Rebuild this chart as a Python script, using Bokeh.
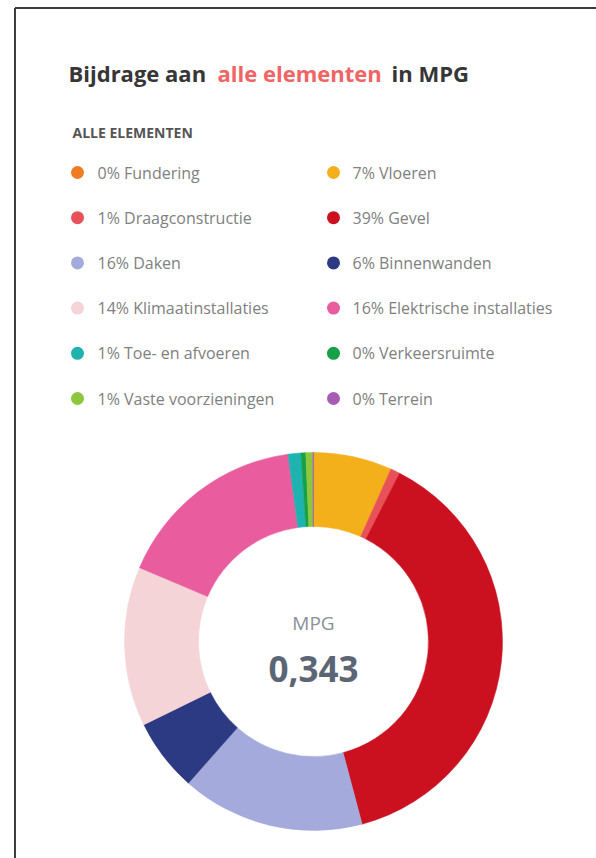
import numpy as np
from bokeh.plotting import figure
from bokeh.models import Range1d, ColumnDataSource
from bokeh.core.properties import value
from bokeh.embed import file_html
from bokeh.resources import INLINE

# ---- data ----
names = ["Fundering", "Vloeren", "Draagconstructie", "Gevel", "Daken", "Binnenwanden",
         "Klimaatinstallaties", "Elektrische installaties", "Toe- en afvoeren",
         "Verkeersruimte", "Vaste voorzieningen", "Terrein"]
label_pct = [0, 7, 1, 39, 16, 6, 14, 16, 1, 0, 1, 0]
shares = [0.1, 6.6, 0.8, 38.2, 15.6, 6.2, 13.6, 16.4, 1.1, 0.4, 0.6, 0.05]
colors = ["#EF7B22", "#F3B01B", "#E9515A", "#CB1020", "#A4AADB", "#2B3A83",
          "#F5D4D7", "#E95D9E", "#1FB3B0", "#16A047", "#8DC63F", "#A75CB4"]
mpg_label = "MPG"
mpg_value = "0,343"

W, H = 596, 858
FONT = "Open Sans"


def X(sx):
    return sx


def Y(sy):
    return H - sy


p = figure(width=W, height=H, x_range=Range1d(0, W), y_range=Range1d(0, H),
           output_backend="svg", toolbar_location=None,
           x_axis_location=None, y_axis_location=None, min_border=0)
p.grid.visible = False
p.outline_line_color = None
p.background_fill_color = "white"
p.border_fill_color = "white"

# card border (top and left)
p.segment(x0=[X(14.5), X(14.5)], y0=[Y(7.5), Y(7.5)], x1=[X(14.5), W], y1=[0, Y(7.5)],
          line_color="#3e3e3e", line_width=2)

# title
p.text(x=[X(68)], y=[Y(72)], text=["Bijdrage aan"], text_font=value(FONT),
       text_font_style="bold", text_font_size="22px", text_color="#363636",
       text_baseline="alphabetic")
p.text(x=[X(217)], y=[Y(72)], text=["alle elementen"], text_font=value(FONT),
       text_font_style="bold", text_font_size="22px", text_color="#F06464",
       text_baseline="alphabetic")
p.text(x=[X(391)], y=[Y(72)], text=["in MPG"], text_font=value(FONT),
       text_font_style="bold", text_font_size="22px", text_color="#363636",
       text_baseline="alphabetic")

# legend heading
p.text(x=[X(72)], y=[Y(132)], text=["ALLE ELEMENTEN"], text_font=value(FONT),
       text_font_style="bold", text_font_size="14px", text_color="#555555",
       text_baseline="alphabetic")

# legend entries
rows = [i // 2 for i in range(len(names))]
cols = [i % 2 for i in range(len(names))]
dot_x = [X(77) if c == 0 else X(333) for c in cols]
txt_x = [X(97) if c == 0 else X(352) for c in cols]
row_y = [Y(172 + 45.2 * r) for r in rows]
labels = [f"{pc}% {n}" for pc, n in zip(label_pct, names)]
leg = ColumnDataSource(dict(dx=dot_x, tx=txt_x, y=row_y, color=colors, label=labels))
p.scatter(x="dx", y="y", size=13, fill_color="color", line_color=None, source=leg)
p.text(x="tx", y="y", text="label", source=leg, text_font=value(FONT),
       text_font_size="16px", text_color="#808080", text_baseline="middle")

# donut
tot = float(np.sum(shares))
frac = np.array(shares) / tot
cum_end = np.cumsum(frac)
cum_start = cum_end - frac
start_ang = np.pi / 2 - 2 * np.pi * cum_start
end_ang = np.pi / 2 - 2 * np.pi * cum_end
donut = ColumnDataSource(dict(start=start_ang, end=end_ang, color=colors, name=names))
cx, cy = X(313), Y(641)
p.annular_wedge(x=cx, y=cy, inner_radius=115, outer_radius=189,
                start_angle="start", end_angle="end", direction="clock",
                fill_color="color", line_color="color", line_width=0.5, source=donut)

# center text
p.text(x=[cx], y=[Y(622)], text=[mpg_label], text_font=value(FONT),
       text_font_size="19px", text_color="#8b9099", text_align="center",
       text_baseline="alphabetic")
p.text(x=[cx], y=[Y(668)], text=[mpg_value], text_font=value(FONT),
       text_font_style="bold", text_font_size="35px", text_color="#5c6573",
       text_align="center", text_baseline="alphabetic")

open("out.html", "w").write(file_html(p, INLINE))
